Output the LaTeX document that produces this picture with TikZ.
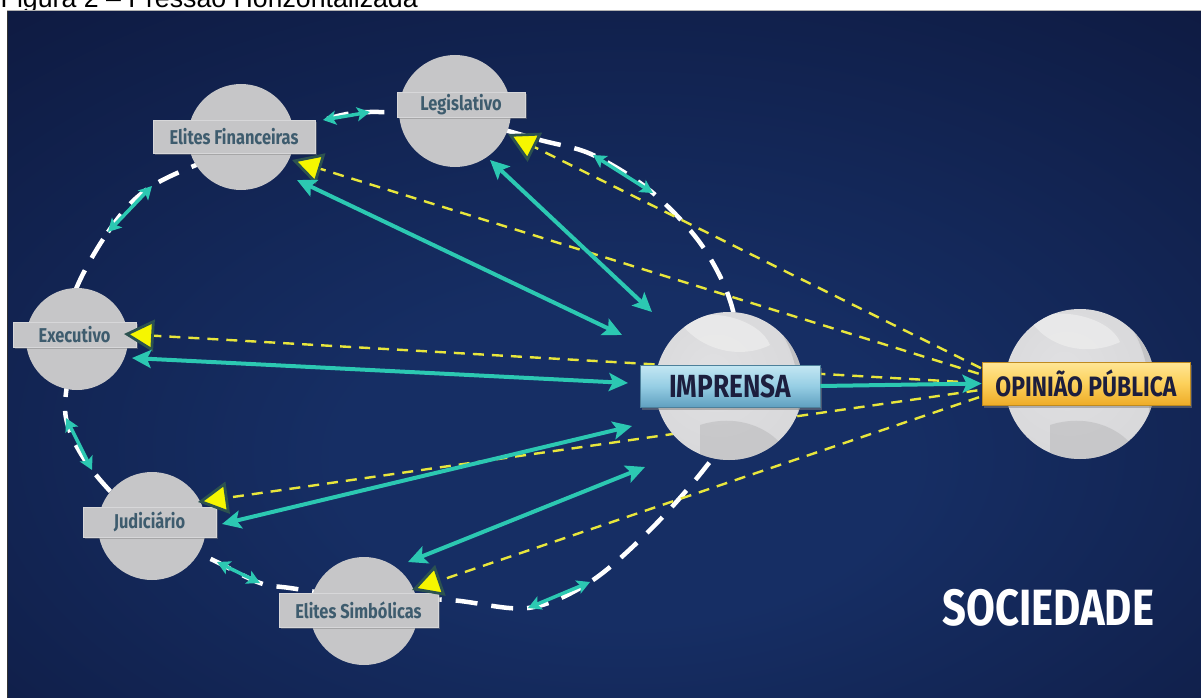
\documentclass[tikz,border=0pt]{standalone}
\usepackage{fontspec}
\setmainfont{Liberation Sans}
\newfontfamily\lab[FakeStretch=0.82]{Fira Sans}
\usetikzlibrary{arrows.meta,shapes.geometric,calc,shadows}
\definecolor{bgin}{RGB}{22,46,100}
\definecolor{bgout}{RGB}{9,13,42}
\definecolor{circ}{RGB}{198,198,200}
\definecolor{boxg}{RGB}{197,197,199}
\definecolor{boxedge}{RGB}{215,215,217}
\definecolor{labtxt}{RGB}{62,92,110}
\definecolor{tealA}{RGB}{44,200,178}
\definecolor{yel}{RGB}{232,230,60}
\definecolor{ytri}{RGB}{246,246,0}
\definecolor{ytriline}{RGB}{44,82,80}
\definecolor{navytxt}{RGB}{28,30,62}
\definecolor{moonA}{RGB}{224,224,226}
\definecolor{moonM}{RGB}{216,216,218}
\definecolor{moonB}{RGB}{204,204,206}
\definecolor{moonD}{RGB}{178,178,180}
\definecolor{moonL}{RGB}{236,236,236}
\definecolor{impT}{RGB}{196,231,243}
\definecolor{impM}{RGB}{150,206,228}
\definecolor{impB}{RGB}{96,160,192}
\definecolor{opT}{RGB}{255,230,150}
\definecolor{opM}{RGB}{252,208,90}
\definecolor{opB}{RGB}{238,172,40}
\pgfdeclareradialshading{bgshade}{\pgfpoint{1bp}{-9bp}}{color(0bp)=(bgin); color(12bp)=(bgin); color(58bp)=(bgout); color(80bp)=(bgout)}
\pgfdeclareradialshading{moonshade}{\pgfpoint{-6bp}{6bp}}{color(0bp)=(moonA); color(30bp)=(moonM); color(50bp)=(moonB)}
\tikzset{
  pcirc/.style={circle, fill=circ, inner sep=0pt, minimum size=#1},
  lbox/.style={rectangle, fill=boxg, draw=boxedge, line width=0.8pt, text=labtxt,
     font=\lab\bfseries\fontsize{20}{20}\selectfont, inner sep=0pt,
     drop shadow={opacity=0.45, shadow xshift=1.5pt, shadow yshift=-2pt}},
  ring/.style={draw=white, line width=4.5pt, dash pattern=on 22pt off 14pt},
  tarrow/.style={draw=tealA, line width=4pt,
     arrows={Stealth[length=19pt,width=18pt,inset=4pt]-Stealth[length=19pt,width=18pt,inset=4pt]}},
  sarrow/.style={draw=tealA, line width=3.5pt,
     arrows={Stealth[length=13pt,width=14pt,inset=3pt]-Stealth[length=13pt,width=14pt,inset=3pt]}},
  ydash/.style={draw=yel, line width=2.4pt, dash pattern=on 11pt off 8pt,
     -{Triangle[length=30pt,width=32pt,fill=ytri,color=ytriline,line width=2.8pt]}},
  moon/.style={circle, inner sep=0pt, minimum size=#1, shading=moonshade}
}
\begin{document}
\begin{tikzpicture}[x=1pt, y=-1pt]
\useasboundingbox (0,0) rectangle (1201,698);
\clip (0,0) rectangle (1201,698);
\fill[white] (0,0) rectangle (1201,698);
\node[anchor=base west, inner sep=0pt, font=\fontsize{26.7}{30}\selectfont] (cap) at (0.5,7.5) {Figura 2 – Pressão Horizontalizada};
\shade[shading=bgshade] (7,11) rectangle (1201,698);
\draw[gray!60, line width=1pt] (7,10.5) -- (1201,10.5);
\draw[black!80, line width=0.8pt] (7.4,11) -- (7.4,698);

% ring
\draw[ring] plot[smooth cycle, tension=0.55] coordinates {
 (72,300) (108,232) (152,186) (240,148) (323,120) (370,112) (455,118) (540,140)
 (593,155) (653,193) (705,250) (735,320) (735,420) (705,468) (650,530) (590,582)
 (528,608) (450,600) (364,598) (290,588) (260,583) (217,562) (150,528) (92,470)
 (66,418) (70,360)};

% peripheral circles
\node[pcirc=106pt] (ef) at (241,137) {};
\node[pcirc=112pt] (leg) at (455,111) {};
\node[pcirc=102pt] (exe) at (77,339) {};
\node[pcirc=108pt] (jud) at (152,526) {};
\node[pcirc=108pt] (es) at (364,611) {};

\node[lbox, minimum width=162pt, minimum height=33pt] (efl) at (234,136.5) {Elites Financeiras};
\node[lbox, minimum width=128pt, minimum height=25pt] (legl) at (461,104.5) {Legislativo};
\node[lbox, minimum width=123pt, minimum height=25pt] (exel) at (74.5,334.5) {Executivo};
\node[lbox, minimum width=133pt, minimum height=30pt] (judl) at (149.5,522) {Judiciário};
\node[lbox, minimum width=159pt, minimum height=34pt] (esl) at (358.5,610) {Elites Simbólicas};

% convergence point at Opiniao
\coordinate (o1) at (1015,385);
\coordinate (legT) at (508,134);
\coordinate (efT) at (292,160);
\coordinate (exeT) at (124,334);
\coordinate (judT) at (198,502);
\coordinate (esT) at (412,590);
\draw[ydash] (o1) -- (legT);
\draw[ydash] (o1) -- (efT);
\draw[ydash] (o1) -- (exeT);
\draw[ydash] (o1) -- (judT);
\draw[ydash] (o1) -- (esT);

% small ring arrows
\coordinate (a1) at (323,120); \coordinate (a2) at (370,112);
\coordinate (b1) at (108,232); \coordinate (b2) at (152,186);
\coordinate (c1) at (66,418);  \coordinate (c2) at (92,470);
\coordinate (d1) at (217,562); \coordinate (d2) at (260,583);
\coordinate (e1) at (528,608); \coordinate (e2) at (590,582);
\coordinate (f1) at (593,155); \coordinate (f2) at (653,193);
\draw[sarrow] (a1) -- (a2);
\draw[sarrow] (b1) -- (b2);
\draw[sarrow] (c1) -- (c2);
\draw[sarrow] (d1) -- (d2);
\draw[sarrow] (e1) -- (e2);
\draw[sarrow] (f1) -- (f2);

% teal arrows to Imprensa
\coordinate (efA) at (297,180);  \coordinate (ef2) at (622,335);
\coordinate (legA) at (490,160); \coordinate (leg2) at (652,312);
\coordinate (exeA) at (132,358); \coordinate (exe2) at (628,383);
\coordinate (judA) at (222,524); \coordinate (jud2) at (632,426);
\coordinate (esA) at (408,562);  \coordinate (es2) at (645,467);
\draw[tarrow] (efA) -- (ef2);
\draw[tarrow] (legA) -- (leg2);
\draw[tarrow] (exeA) -- (exe2);
\draw[tarrow] (judA) -- (jud2);
\draw[tarrow] (esA) -- (es2);

% Imprensa
\node[moon=148pt] (imp) at (729,386) {};
\begin{scope}
\clip (729,386) circle[radius=74pt];
\fill[moonD, opacity=0.6] (770,318) .. controls (800,350) and (806,400) .. (790,450) .. controls (830,420) and (830,340) .. (770,318) -- cycle;
\fill[moonL, opacity=0.8] (680,322) .. controls (710,305) and (760,320) .. (770,345) .. controls (740,360) and (700,350) .. (680,322) -- cycle;
\fill[moonD, opacity=0.45] (700,425) .. controls (740,412) and (780,430) .. (792,462) -- (700,470) -- cycle;
\end{scope}
\node[rectangle, minimum width=180pt, minimum height=42pt, inner sep=0pt,
  top color=impT, bottom color=impB, middle color=impM, draw=impB!80!black, line width=0.8pt,
  text=navytxt, font=\lab\bfseries\fontsize{32}{32}\selectfont,
  drop shadow={opacity=0.5, shadow xshift=2pt, shadow yshift=-2.5pt}] (impl) at (730,386) {IMPRENSA};

% Opiniao publica
\node[moon=150pt] (op) at (1080,384) {};
\begin{scope}
\clip (1080,384) circle[radius=75pt];
\fill[moonD, opacity=0.55] (1120,312) .. controls (1150,345) and (1158,400) .. (1140,452) .. controls (1185,420) and (1180,340) .. (1120,312) -- cycle;
\fill[moonL, opacity=0.8] (1030,320) .. controls (1060,305) and (1110,318) .. (1120,342) .. controls (1090,356) and (1050,350) .. (1030,320) -- cycle;
\fill[moonD, opacity=0.45] (1050,425) .. controls (1090,412) and (1130,430) .. (1142,462) -- (1050,470) -- cycle;
\end{scope}
\node[rectangle, minimum width=208pt, minimum height=43pt, inner sep=0pt,
  top color=opT, bottom color=opB, middle color=opM, draw=opB!80!black, line width=0.8pt,
  text=navytxt, font=\lab\bfseries\fontsize{28}{28}\selectfont,
  drop shadow={opacity=0.5, shadow xshift=2pt, shadow yshift=-2.5pt}] (opl) at (1086,383.5) {OPINIÃO PÚBLICA};

\draw[draw=tealA, line width=4pt, -{Stealth[length=19pt,width=18pt,inset=4pt]}] (impl.east) -- (opl.west);

\node[anchor=base west, inner sep=0pt, text=white, font=\lab\bfseries\fontsize{51}{51}\selectfont] (soc) at (942,625) {SOCIEDADE};
\end{tikzpicture}
\end{document}
